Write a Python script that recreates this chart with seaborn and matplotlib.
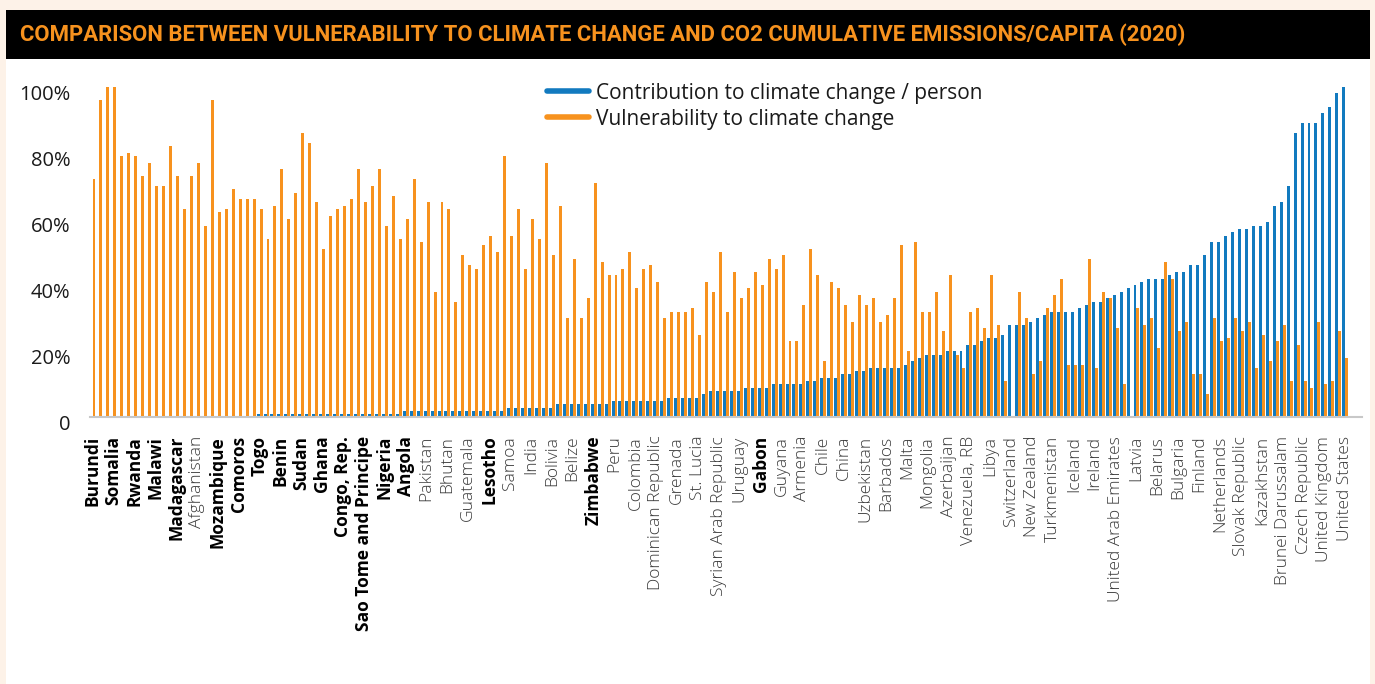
import matplotlib
matplotlib.use("Agg")
import pandas as pd
import matplotlib.pyplot as plt
from matplotlib.patches import Rectangle
from matplotlib.lines import Line2D
from matplotlib.transforms import ScaledTranslation
import seaborn as sns

title = "COMPARISON BETWEEN VULNERABILITY TO CLIMATE CHANGE AND CO2 CUMULATIVE EMISSIONS/CAPITA (2020)"
series_names = ["Contribution to climate change / person", "Vulnerability to climate change"]

# every third country is labelled on the axis
tick_labels = [
    "Burundi", "Somalia", "Rwanda", "Malawi", "Madagascar", "Afghanistan", "Mozambique",
    "Comoros", "Togo", "Benin", "Sudan", "Ghana", "Congo, Rep.", "Sao Tome and Principe",
    "Nigeria", "Angola", "Pakistan", "Bhutan", "Guatemala", "Lesotho", "Samoa", "India",
    "Bolivia", "Belize", "Zimbabwe", "Peru", "Colombia", "Dominican Republic", "Grenada",
    "St. Lucia", "Syrian Arab Republic", "Uruguay", "Gabon", "Guyana", "Armenia", "Chile",
    "China", "Uzbekistan", "Barbados", "Malta", "Mongolia", "Azerbaijan", "Venezuela, RB",
    "Libya", "Switzerland", "New Zealand", "Turkmenistan", "Iceland", "Ireland",
    "United Arab Emirates", "Latvia", "Belarus", "Bulgaria", "Finland", "Netherlands",
    "Slovak Republic", "Kazakhstan", "Brunei Darussalam", "Czech Republic",
    "United Kingdom", "United States",
]
bold_labels = [
    "Burundi", "Somalia", "Rwanda", "Malawi", "Madagascar", "Mozambique", "Comoros", "Togo",
    "Benin", "Sudan", "Ghana", "Congo, Rep.", "Sao Tome and Principe", "Nigeria", "Angola",
    "Lesotho", "Zimbabwe", "Gabon",
]

# values in % (181 countries, sorted by contribution)
vulnerability = [
    72.1, 96.1, 100, 100, 79.1, 79.9, 79.1, 73.0, 77.0, 70.0,
    70.0, 82.1, 73.0, 63.0, 73.0, 77.0, 57.9, 96.1, 62.1, 63.0,
    69.1, 66.1, 66.1, 66.1, 63.0, 53.9, 63.9, 75.2, 60.0, 67.9,
    86.1, 83.0, 65.2, 50.9, 60.9, 63.0, 63.9, 66.1, 75.2, 65.2,
    70.0, 75.2, 57.9, 67.0, 53.9, 60.0, 72.1, 53.0, 65.2, 37.9,
    65.2, 63.0, 34.8, 49.1, 46.1, 44.8, 52.1, 54.8, 50.0, 79.1,
    54.8, 63.0, 44.8, 60.0, 53.9, 77.0, 49.1, 63.9, 30.0, 47.9,
    30.0, 36.1, 70.9, 47.0, 43.0, 43.0, 44.8, 50.0, 39.1, 44.8,
    46.1, 40.9, 30.0, 31.8, 31.8, 31.8, 33.0, 24.8, 40.9, 37.9,
    50.0, 31.8, 43.9, 36.1, 39.1, 43.9, 40.0, 47.9, 44.8, 49.1,
    23.0, 23.0, 33.9, 50.9, 43.0, 17.0, 40.9, 39.1, 33.9, 28.8,
    37.0, 33.9, 36.1, 28.8, 30.9, 36.1, 52.1, 20.0, 53.0, 31.8,
    31.8, 37.9, 26.1, 43.0, 18.8, 14.8, 31.8, 33.0, 27.0, 43.0,
    27.9, 10.9, 0, 37.9, 30.0, 13.0, 17.0, 33.0, 37.0, 41.8,
    15.8, 15.8, 15.8, 47.9, 14.8, 37.9, 36.1, 27.0, 10.0, 0,
    33.0, 27.9, 30.0, 20.9, 47.0, 41.8, 26.1, 28.8, 13.0, 13.0,
    7.0, 30.0, 23.0, 23.9, 30.0, 26.1, 28.8, 14.8, 24.8, 17.0,
    23.0, 27.9, 10.9, 21.8, 10.9, 8.8, 28.8, 10.0, 10.9, 26.1,
    17.9,
]
contribution = [
    0, 0, 0, 0, 0, 0, 0, 0, 0, 0,
    0, 0, 0, 0, 0, 0, 0, 0, 0, 0,
    0, 0, 0, 0, 1.0, 1.0, 1.0, 1.0, 1.0, 1.0,
    1.0, 1.0, 1.0, 1.0, 1.0, 1.0, 1.0, 1.0, 1.0, 1.0,
    1.0, 1.0, 1.0, 1.0, 1.0, 1.8, 1.8, 1.8, 1.8, 1.8,
    1.8, 1.8, 1.8, 1.8, 1.8, 1.8, 1.8, 1.8, 1.8, 1.8,
    2.7, 2.7, 2.7, 2.7, 2.7, 2.7, 2.7, 3.9, 3.9, 3.9,
    3.9, 3.9, 3.9, 3.9, 3.9, 4.8, 4.8, 4.8, 4.8, 4.8,
    4.8, 4.8, 4.8, 5.8, 5.8, 5.8, 5.8, 5.8, 7.0, 7.9,
    7.9, 7.9, 7.9, 7.9, 8.8, 8.8, 8.8, 8.8, 10.0, 10.0,
    10.0, 10.0, 10.0, 10.9, 10.9, 11.8, 11.8, 11.8, 13.0, 13.0,
    13.9, 13.9, 14.8, 14.8, 14.8, 14.8, 14.8, 15.8, 17.0, 17.9,
    18.8, 18.8, 18.8, 20.0, 20.0, 20.0, 21.8, 21.8, 23.0, 23.9,
    23.9, 24.8, 27.9, 27.9, 27.9, 28.8, 30.0, 30.9, 31.8, 31.8,
    31.8, 31.8, 33.0, 33.9, 34.8, 34.8, 36.1, 37.0, 37.9, 39.1,
    40.0, 40.9, 41.8, 41.8, 41.8, 43.0, 43.9, 43.9, 46.1, 46.1,
    49.1, 53.0, 53.0, 54.8, 56.1, 57.0, 57.0, 57.9, 57.9, 59.1,
    63.9, 65.2, 70.0, 86.1, 89.1, 89.1, 89.1, 92.1, 93.9, 98.2,
    100,
]

blue = "#127ABF"
orange = "#F7921E"
W, H = 1375, 684

sns.set_style("white")
plt.rcParams["font.family"] = ["Open Sans", "DejaVu Sans"]

n = len(vulnerability)
df = pd.DataFrame({
    "idx": list(range(n)) * 2,
    "value": contribution + vulnerability,
    "series": [series_names[0]] * n + [series_names[1]] * n,
})

fig = plt.figure(figsize=(W / 100, H / 100), dpi=100, facecolor="#FDF2E8")

# white panel and black title band, kept behind the axes
fig.patches.append(Rectangle((6 / W, 0), 1364 / W, 1 - 59 / H, transform=fig.transFigure,
                             facecolor="white", edgecolor="none", zorder=-2))
fig.patches.append(Rectangle((6 / W, 1 - 59 / H), 1364 / W, 49 / H, transform=fig.transFigure,
                             facecolor="black", edgecolor="none", zorder=-2))
t = fig.text(20 / W, 1 - 35 / H, title, color=orange, fontweight="bold", fontsize=14,
             va="center", ha="left", family=["Roboto", "DejaVu Sans"])
fig.canvas.draw()
tw = t.get_window_extent().width
t.set_fontsize(14 * 1173 / tw)

ax = fig.add_axes([90 / W, 1 - 417 / H, 1272 / W, 330 / H])
ax.set_facecolor("none")
sns.barplot(data=df, x="idx", y="value", hue="series", hue_order=series_names,
            palette=[blue, orange], width=0.86, gap=0, saturation=1,
            legend=False, ax=ax)
for p in ax.patches:
    p.set_linewidth(0)
    p.set_antialiased(False)

ax.set_xlim(-0.36, 182.4)
ax.set_ylim(0, 100)
ax.set_xlabel("")
ax.set_ylabel("")
sns.despine(ax=ax, left=True)
ax.spines["bottom"].set_color("#C8C8C8")
ax.spines["bottom"].set_linewidth(1.5)

ax.set_yticks([0, 20, 40, 60, 80, 100])
ax.set_yticklabels(["0", "20%", "40%", "60%", "80%", "100%"], fontsize=14.5, color="#1A1A1A")
ax.set_xticks(range(0, n, 3))
ax.set_xticklabels(tick_labels, rotation=90, fontsize=12.5)
ax.tick_params(axis="both", length=0)
ax.tick_params(axis="y", pad=14)
ax.tick_params(axis="x", pad=13.5)

for lab in ax.get_xticklabels():
    if lab.get_text() in bold_labels:
        lab.set_fontweight("bold")
        lab.set_color("black")
    else:
        lab.set_fontweight("light")
        lab.set_color("#3A3A3A")

shift = ScaledTranslation(0, -6 / 100, fig.dpi_scale_trans)
for lab in ax.get_yticklabels():
    lab.set_transform(lab.get_transform() + shift)

handles = [Line2D([0], [0], color=blue, lw=4), Line2D([0], [0], color=orange, lw=4)]
fig.legend(handles, series_names, loc="upper left", bbox_to_anchor=(547 / W, 1 - 82.5 / H),
           frameon=False, fontsize=15, handlelength=2.0, handletextpad=0.33,
           borderpad=0, borderaxespad=0, labelspacing=0.25, labelcolor="#1A1A1A")

fig.savefig("out.png", dpi=100, facecolor=fig.get_facecolor())
